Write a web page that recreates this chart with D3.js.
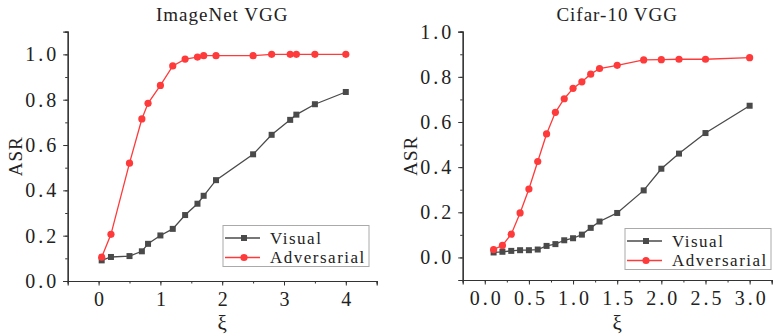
<!DOCTYPE html>
<html>
<head>
<meta charset="utf-8">
<script src="https://cdn.jsdelivr.net/npm/d3@7"></script>
<style>
  body { margin: 0; background: #fff; }
  svg { display: block; }
  text { font-family: "Liberation Serif", "DejaVu Serif", serif; fill: #222; }
</style>
</head>
<body>
<svg id="chart" width="775" height="336"></svg>
<script>
// ImageNet VGG
var imagenetXi = [0.05, 0.2, 0.5, 0.7, 0.8, 1.0, 1.2, 1.4, 1.6, 1.7, 1.9, 2.5, 2.8, 3.1, 3.2, 3.5, 4.0];
var imagenetVisual = [0.091, 0.106, 0.110, 0.131, 0.164, 0.201, 0.230, 0.291, 0.341, 0.376, 0.445, 0.559, 0.645, 0.711, 0.734, 0.780, 0.834];
var imagenetAdversarial = [0.105, 0.206, 0.520, 0.715, 0.784, 0.863, 0.949, 0.979, 0.988, 0.994, 0.994, 0.994, 1.0, 1.0, 1.0, 1.0, 1.0];
var imagenetXTicks = [0, 1, 2, 3, 4];
var imagenetYTicks = [0.0, 0.2, 0.4, 0.6, 0.8, 1.0];

// Cifar-10 VGG
var cifarXi = [0.1, 0.2, 0.3, 0.4, 0.5, 0.6, 0.7, 0.8, 0.9, 1.0, 1.1, 1.2, 1.3, 1.5, 1.8, 2.0, 2.2, 2.5, 3.0];
var cifarVisual = [0.022, 0.025, 0.029, 0.032, 0.032, 0.035, 0.051, 0.059, 0.076, 0.085, 0.101, 0.131, 0.159, 0.197, 0.297, 0.393, 0.460, 0.551, 0.672];
var cifarAdversarial = [0.035, 0.053, 0.103, 0.197, 0.303, 0.425, 0.547, 0.643, 0.703, 0.749, 0.778, 0.812, 0.837, 0.851, 0.875, 0.876, 0.878, 0.878, 0.885];
var cifarXTicks = [0.0, 0.5, 1.0, 1.5, 2.0, 2.5, 3.0];
var cifarYTicks = [0.0, 0.2, 0.4, 0.6, 0.8, 1.0];

var seriesNames = ['Visual', 'Adversarial'];
var grey = '#4a4a4a', red = '#ff3a3a';

var svg = d3.select('#chart');

function drawPanel(opt) {
  var g = svg.append('g');
  var x = d3.scaleLinear().domain(opt.xDomain).range([opt.left, opt.right]);
  var y = d3.scaleLinear().domain(opt.yDomain).range([opt.bottom, opt.top]);

  // minor ticks
  var xMinor = d3.range(opt.xDomain[0], opt.xDomain[1] + 1e-9, opt.xMinorStep);
  var yMinor = d3.range(opt.yDomain[0], opt.yDomain[1] + 1e-9, opt.yMinorStep);

  var xAxis = g.append('g').attr('transform', 'translate(0,' + opt.bottom + ')');
  xAxis.append('g').call(d3.axisBottom(x).tickValues(xMinor).tickSize(2.5).tickFormat(''));
  xAxis.append('g').call(d3.axisBottom(x).tickValues(opt.xTicks).tickSize(4.5).tickPadding(6).tickFormat(opt.xFormat));

  var yAxis = g.append('g').attr('transform', 'translate(' + opt.left + ',0)');
  yAxis.append('g').call(d3.axisLeft(y).tickValues(yMinor).tickSize(2.5).tickFormat(''));
  yAxis.append('g').call(d3.axisLeft(y).tickValues(opt.yTicks).tickSize(4.5).tickPadding(4).tickFormat(d3.format('.1f')));

  g.selectAll('.domain').attr('stroke', '#333').attr('stroke-width', 1.2);
  g.selectAll('.tick line').attr('stroke', '#333');
  g.selectAll('.tick text')
    .style('font-family', '"Liberation Serif", serif')
    .style('font-size', '20px')
    .style('letter-spacing', '3px')
    .attr('fill', '#222');
  xAxis.selectAll('.tick text').attr('dx', '1.5px');

  // title and axis labels
  var cx = (opt.left + opt.right) / 2, cy = (opt.top + opt.bottom) / 2;
  g.append('text').attr('x', cx).attr('y', 21).attr('text-anchor', 'middle')
    .style('font-size', '19px').style('letter-spacing', '1px').text(opt.title);
  g.append('text').attr('transform', 'translate(' + (opt.left - 46) + ',' + cy + ') rotate(-90)')
    .attr('text-anchor', 'middle').style('font-size', '19px').style('letter-spacing', '1px').text('ASR');
  g.append('text').attr('x', cx).attr('y', 330).attr('text-anchor', 'middle')
    .style('font-size', '21px').text('ξ');

  var line = d3.line().x(function (d) { return x(d[0]); }).y(function (d) { return y(d[1]); });

  var visual = d3.zip(opt.xi, opt.visual);
  var adv = d3.zip(opt.xi, opt.adversarial);

  g.append('path').datum(visual).attr('d', line).attr('fill', 'none').attr('stroke', grey).attr('stroke-width', 1.3);
  g.selectAll('.sq').data(visual).enter().append('rect')
    .attr('x', function (d) { return x(d[0]) - 3; })
    .attr('y', function (d) { return y(d[1]) - 3; })
    .attr('width', 6).attr('height', 6).attr('fill', grey);

  g.append('path').datum(adv).attr('d', line).attr('fill', 'none').attr('stroke', red).attr('stroke-width', 1.3);
  g.selectAll('.dot').data(adv).enter().append('circle')
    .attr('cx', function (d) { return x(d[0]); })
    .attr('cy', function (d) { return y(d[1]); })
    .attr('r', 3.6).attr('fill', red);

  // legend
  var lg = g.append('g').attr('transform', 'translate(' + opt.legend[0] + ',' + opt.legend[1] + ')');
  lg.append('rect').attr('width', 146).attr('height', 41)
    .attr('fill', '#fff').attr('stroke', '#aaa').attr('stroke-width', 1);
  seriesNames.forEach(function (name, i) {
    var ly = 12.5 + i * 19.5;
    var col = i === 0 ? grey : red;
    lg.append('line').attr('x1', 2).attr('x2', 37).attr('y1', ly).attr('y2', ly)
      .attr('stroke', col).attr('stroke-width', 1.3);
    if (i === 0) {
      lg.append('rect').attr('x', 18).attr('y', ly - 3).attr('width', 6).attr('height', 6).attr('fill', col);
    } else {
      lg.append('circle').attr('cx', 21).attr('cy', ly).attr('r', 3.6).attr('fill', col);
    }
    lg.append('text').attr('x', 47).attr('y', ly).attr('dy', '0.35em')
      .style('font-size', '17px').style('letter-spacing', '1.5px').text(name);
  });
}

drawPanel({
  title: 'ImageNet VGG',
  left: 67.7, right: 376.7, top: 31.7, bottom: 281,
  xDomain: [-0.5, 4.5], yDomain: [0, 1.1],
  xMinorStep: 0.5, yMinorStep: 0.1,
  xTicks: imagenetXTicks, yTicks: imagenetYTicks, xFormat: d3.format('d'),
  xi: imagenetXi, visual: imagenetVisual, adversarial: imagenetAdversarial,
  legend: [223, 225.5]
});

drawPanel({
  title: 'Cifar-10 VGG',
  left: 462.7, right: 771.7, top: 31.7, bottom: 280,
  xDomain: [-0.25, 3.25], yDomain: [-0.1, 1.0],
  xMinorStep: 0.25, yMinorStep: 0.1,
  xTicks: cifarXTicks, yTicks: cifarYTicks, xFormat: d3.format('.1f'),
  xi: cifarXi, visual: cifarVisual, adversarial: cifarAdversarial,
  legend: [625, 228.5]
});
</script>
</body>
</html>
